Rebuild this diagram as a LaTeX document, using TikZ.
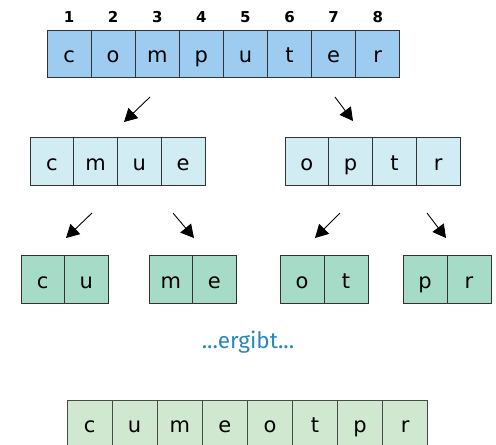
\documentclass[tikz,border=0pt]{standalone}
\usepackage{fontspec}
\setmainfont{DejaVu Sans}
\newfontfamily\ergfont{Fira Sans}
\usetikzlibrary{arrows.meta}
\definecolor{topblue}{RGB}{158,204,240}
\definecolor{midcyan}{RGB}{210,236,244}
\definecolor{lowgreen}{RGB}{166,219,199}
\definecolor{endgreen}{RGB}{207,232,207}
\definecolor{bordergray}{RGB}{51,51,51}
\definecolor{ergblue}{RGB}{41,135,193}
\tikzset{
  cell/.style={draw=bordergray, line width=0.9pt, inner sep=0pt, minimum height=47pt,
    text height=19pt, text depth=1pt, font=\fontsize{21}{23}\selectfont},
  numlabel/.style={font=\fontsize{15}{17}\selectfont\bfseries, inner sep=0pt},
  arr/.style={line width=0.9pt, -{Triangle[length=13pt,width=14pt]}},
}
\begin{document}
\begin{tikzpicture}[x=1pt,y=-1pt]
\useasboundingbox (0,0) rectangle (496,445);
% top row
\foreach \ch [count=\i] in {c,o,m,p,u,t,e,r} {
  \node[cell, fill=topblue, minimum width=44.1pt] (t\i) at ({47+44.1*(\i-0.5)},53.5) {\ch};
  \node[numlabel] (n\i) at ({47+44.1*(\i-0.5)},17) {\i};
}
% second row
\foreach \ch [count=\i] in {c,m,u,e} {
  \node[cell, fill=midcyan, minimum width=43.75pt, minimum height=48pt] (a\i) at ({30+43.75*(\i-0.5)},161) {\ch};
}
\foreach \ch [count=\i] in {o,p,t,r} {
  \node[cell, fill=midcyan, minimum width=43.75pt, minimum height=48pt] (b\i) at ({285+43.75*(\i-0.5)},161) {\ch};
}
% third row
\foreach \ch [count=\i] in {c,u} {
  \node[cell, fill=lowgreen, minimum width=43.5pt, minimum height=48pt] (c\i) at ({21+43.5*(\i-0.5)},279) {\ch};
}
\foreach \ch [count=\i] in {m,e} {
  \node[cell, fill=lowgreen, minimum width=43.5pt, minimum height=48pt] (d\i) at ({149+43.5*(\i-0.5)},279) {\ch};
}
\foreach \ch [count=\i] in {o,t} {
  \node[cell, fill=lowgreen, minimum width=44pt, minimum height=48pt] (e\i) at ({280+44*(\i-0.5)},279) {\ch};
}
\foreach \ch [count=\i] in {p,r} {
  \node[cell, fill=lowgreen, minimum width=44pt, minimum height=48pt] (f\i) at ({403+44*(\i-0.5)},279) {\ch};
}
% result text
\node[font=\ergfont\fontsize{22.5}{25}\selectfont, text=ergblue, inner sep=0pt] (erg) at (248,342) {...ergibt...};
% bottom row
\foreach \ch [count=\i] in {c,u,m,e,o,t,p,r} {
  \node[cell, fill=endgreen, draw={rgb,255:red,70;green,75;blue,70}, minimum width=45.1pt] (g\i) at ({67+45.1*(\i-0.5)},423.5) {\ch};
}
% arrows
\coordinate (s1) at (150,97);  \coordinate (e1) at (124,122);
\coordinate (s2) at (335,97);  \coordinate (e2) at (353,121);
\coordinate (s3) at (92,213);  \coordinate (e3) at (66,238);
\coordinate (s4) at (173,213); \coordinate (e4) at (194,238);
\coordinate (s5) at (340,213); \coordinate (e5) at (315,238);
\coordinate (s6) at (427,213); \coordinate (e6) at (446,238);
\foreach \k in {1,...,6} { \draw[arr] (s\k) -- (e\k); }
\end{tikzpicture}
\end{document}
